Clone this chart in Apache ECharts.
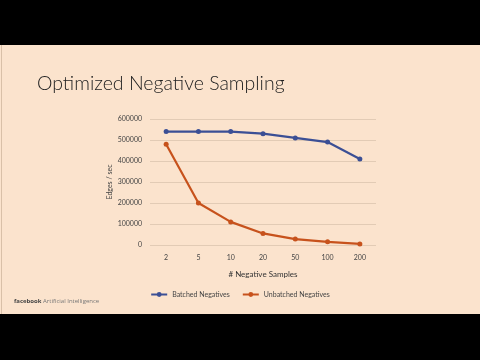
<!DOCTYPE html>
<html><head><meta charset="utf-8">
<script src="https://cdn.jsdelivr.net/npm/echarts@6/dist/echarts.min.js"></script>
<style>html,body{margin:0;padding:0;background:#000}#c{width:480px;height:360px}</style>
</head><body><div id="c"></div>
<script>
const categories = ['2','5','10','20','50','100','200'];
const batched = [540000, 540000, 540000, 530000, 510000, 490000, 410000];
const unbatched = [480000, 200000, 110000, 55000, 28000, 15000, 5000];
const seriesNames = ['Batched Negatives', 'Unbatched Negatives'];
const titleText = 'Optimized Negative Sampling';
const xName = '# Negative Samples';
const yName = 'Edges / sec';
const footerBrand = 'facebook';
const footerText = 'Artificial Intelligence';

const chart = echarts.init(document.getElementById('c'), null, {renderer:'canvas'});
const font = 'Lato, "Open Sans", sans-serif';
chart.setOption({
  backgroundColor: '#000',
  animation: false,
  graphic: [
    {type:'rect', shape:{x:0,y:45,width:480,height:269}, style:{fill:'#fbe3cd'}, z:-10},
    {type:'rect', shape:{x:1,y:45,width:1,height:269}, style:{fill:'#d9c0a8'}, z:-9},
    {type:'text', left:37, top:74, style:{text:titleText, fill:'#222', font:'300 19.5px Lato, "Open Sans", sans-serif'}},
    {type:'text', left:14, top:298, style:{text:footerBrand, fill:'#444', font:'bold 6px "Open Sans", sans-serif'}},
    {type:'text', left:43, top:298, style:{text:footerText, fill:'#777', font:'6px "Open Sans", sans-serif'}}
  ],
  grid: {left:150, right:104, top:119, bottom:115},
  legend: {
    bottom: 57, left: 'center', itemWidth: 16, itemHeight: 6, itemGap: 12,
    textStyle: {fontSize: 7, color: '#444', fontFamily: font},
    data: seriesNames
  },
  xAxis: {
    type:'category', data: categories, boundaryGap: true,
    name: xName, nameLocation:'middle', nameGap: 25,
    nameTextStyle:{fontSize:8, color:'#333', fontFamily:font},
    axisLine:{show:false}, axisTick:{show:false},
    axisLabel:{fontSize:7, color:'#444', margin:9, fontFamily:font}
  },
  yAxis: {
    type:'value', min:0, max:600000, interval:100000,
    name: yName, nameLocation:'middle', nameGap: 28, nameRotate: 90,
    nameTextStyle:{fontSize:7, color:'#444', fontFamily:font},
    axisLine:{show:false}, axisTick:{show:false},
    axisLabel:{fontSize:7, color:'#444', margin:8, fontFamily:font, formatter: v => String(v)},
    splitLine:{lineStyle:{color:'#e2cbb5', width:1}}
  },
  series: [
    {name: seriesNames[0], type:'line', data: batched, symbol:'circle', symbolSize:5,
     lineStyle:{color:'#3b4f95', width:2.2}, itemStyle:{color:'#3b4f95'}},
    {name: seriesNames[1], type:'line', data: unbatched, symbol:'circle', symbolSize:5,
     lineStyle:{color:'#c7521c', width:2.2}, itemStyle:{color:'#c7521c'}}
  ]
});
</script></body></html>
